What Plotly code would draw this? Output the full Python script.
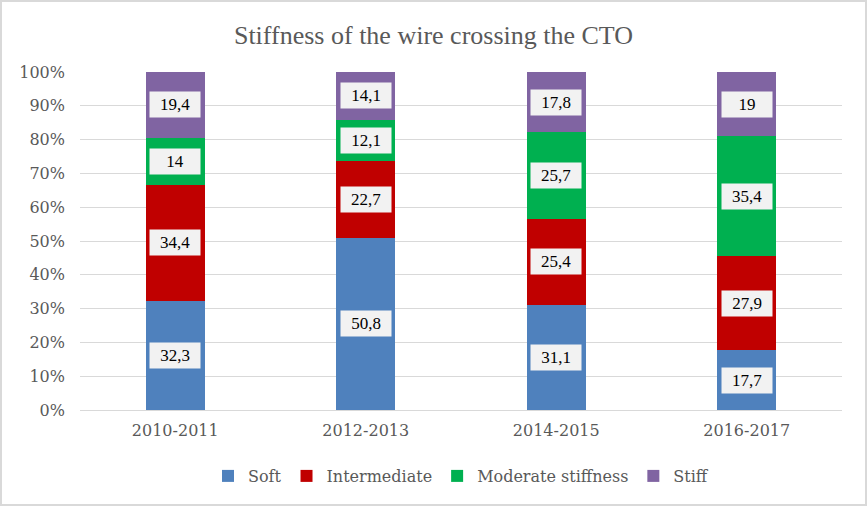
import plotly.graph_objects as go

categories = ["2010-2011", "2012-2013", "2014-2015", "2016-2017"]
series_names = ["Soft", "Intermediate", "Moderate stiffness", "Stiff"]
soft = [32.3, 50.8, 31.1, 17.7]
intermediate = [34.4, 22.7, 25.4, 27.9]
moderate = [14, 12.1, 25.7, 35.4]
stiff = [19.4, 14.1, 17.8, 19]
colors = ["#4F81BD", "#C00000", "#00B050", "#8064A2"]
y_ticks = [0, 10, 20, 30, 40, 50, 60, 70, 80, 90, 100]
y_tick_labels = [f"{v}%" for v in y_ticks]

series = [soft, intermediate, moderate, stiff]
FONT = "DejaVu Serif"
LFONT = "Liberation Serif"

fig = go.Figure()
for name, vals, col in zip(series_names, series, colors):
    fig.add_trace(go.Bar(x=categories, y=vals, name=name, marker_color=col,
                         marker_line_width=0, hoverinfo="skip"))

def fmt(v):
    s = f"{v:g}"
    return s.replace(".", ",")

annotations = []
for i, cat in enumerate(categories):
    total = sum(s[i] for s in series)
    cum = 0
    for s in series:
        v = s[i]
        mid = (cum + v / 2) / total * 100
        cum += v
        annotations.append(dict(
            x=cat, y=mid, xref="x", yref="y", text=fmt(v), showarrow=False,
            font=dict(family=LFONT, size=17, color="#000000"),
            bgcolor="#F2F2F2", borderpad=4, width=42, height=17,
        ))

L, R, T, B = 80, 25, 72, 96
W, H = 867, 506
pw, ph = W - L - R, H - T - B

fig.update_layout(
    width=W, height=H,
    barmode="stack", barnorm="percent", bargap=0.69,
    margin=dict(l=L, r=R, t=T, b=B),
    plot_bgcolor="white", paper_bgcolor="white",
    title=dict(text="Stiffness of the wire crossing the CTO", x=0.5, xanchor="center",
               y=1 - 35 / H, yanchor="middle",
               font=dict(family=LFONT, size=26, color="#595959")),
    font=dict(family=FONT, color="#595959"),
    xaxis=dict(showgrid=False, showline=True, linecolor="#D9D9D9", linewidth=1,
               tickfont=dict(family=FONT, size=16, color="#595959"), ticks="",
               ticklabelstandoff=6, fixedrange=True),
    yaxis=dict(range=[0, 100], tickvals=y_ticks, ticktext=y_tick_labels,
               showgrid=True, gridcolor="#D9D9D9", gridwidth=1, zeroline=False,
               tickfont=dict(family=FONT, size=16, color="#595959"), ticks="",
               ticklabelstandoff=14, fixedrange=True),
    legend=dict(orientation="h", x=0.5, xanchor="center", y=-(476 - 410) / ph, yanchor="middle",
                font=dict(family=FONT, size=16, color="#595959"), itemwidth=30,
                traceorder="normal"),
    annotations=annotations,
    shapes=[dict(type="rect", xref="paper", yref="paper",
                 x0=-(L - 1) / pw, x1=1 + (R - 1) / pw,
                 y0=-(B - 1) / ph, y1=1 + (T - 1) / ph,
                 line=dict(color="#D9D9D9", width=2), fillcolor="rgba(0,0,0,0)")],
)

fig.write_html("out.html", config={"displayModeBar": False},
               post_script="document.body.style.margin='0px';")
